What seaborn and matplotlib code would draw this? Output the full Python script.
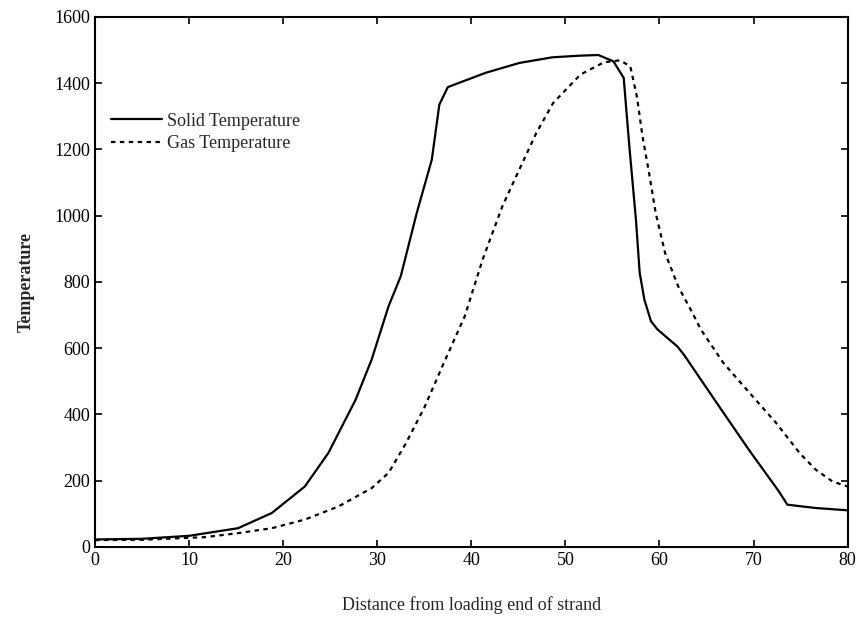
import numpy as np
import pandas as pd
import seaborn as sns
import matplotlib.pyplot as plt

# values
solid_x = [0, 5, 10, 15.2, 18.8, 22.3, 24.8, 27.7, 29.4, 31.2, 32.5, 34.2, 35.8, 36.6,
           37.5, 41.5, 45.1, 48.6, 51.5, 53.5, 55.1, 56.2, 56.8, 57.5, 57.9, 58.4,
           59.1, 59.8, 61.9, 62.6, 66.1, 69.5, 72.7, 73.6, 76.6, 80]
solid_y = [22, 24, 33, 56, 102, 182, 283, 444, 565, 726, 817, 1008, 1169, 1335,
           1388, 1431, 1461, 1478, 1483, 1485, 1466, 1416, 1209, 988, 827, 746,
           681, 656, 605, 580, 434, 293, 167, 127, 117, 110]

gas_x = [0, 5, 11.7, 15.2, 18.8, 22.3, 25.9, 29.4, 31.2, 33, 35, 37, 39.3, 41.2,
         43.3, 45.1, 46.9, 48.7, 51.6, 54.1, 55.8, 56.9, 57.6, 58.2, 58.9, 59.6,
         60.6, 62.0, 63.6, 64.4, 66.8, 69.6, 72.4, 74.9, 76.6, 78.4, 80]
gas_y = [20, 21, 29, 41, 56, 82, 122, 177, 223, 310, 420, 550, 696, 867,
         1028, 1139, 1249, 1340, 1426, 1463, 1469, 1451, 1360, 1239, 1128, 1008,
         887, 786, 701, 656, 555, 464, 374, 283, 233, 197, 182]

df = pd.concat([
    pd.DataFrame({'x': solid_x, 'y': solid_y, 'kind': 'Solid Temperature'}),
    pd.DataFrame({'x': gas_x, 'y': gas_y, 'kind': 'Gas Temperature'}),
])

sns.set_theme(style='white')
plt.rcParams['font.family'] = ['Liberation Serif', 'DejaVu Serif']

fig, ax = plt.subplots(figsize=(8.64, 6.27), dpi=100)
fig.subplots_adjust(left=0.11, right=0.981, top=0.973, bottom=0.128)

sns.lineplot(data=df, x='x', y='y', hue='kind', style='kind', sort=False,
             palette={'Solid Temperature': 'black', 'Gas Temperature': 'black'},
             dashes={'Solid Temperature': '', 'Gas Temperature': (2, 2)},
             linewidth=1.6, ax=ax)

ax.set_xlim(0, 80)
ax.set_ylim(0, 1600)
ax.set_xticks(np.arange(0, 81, 10))
ax.set_yticks(np.arange(0, 1601, 200))
ax.tick_params(direction='in', length=5, width=1.2, labelsize=13, colors='black',
               top=True, right=True, left=True, bottom=True)
for s in ax.spines.values():
    s.set_color('black')
    s.set_linewidth(1.5)

ax.set_xlabel('Distance from loading end of strand', fontsize=13, labelpad=20)
ax.set_ylabel('Temperature', fontsize=13, fontweight='bold', labelpad=14)

leg = ax.legend(loc='upper left', bbox_to_anchor=(0.0, 0.85), frameon=False,
                fontsize=13, handlelength=2.8, handletextpad=0.3, labelspacing=0.3)

fig.savefig('out.png', dpi=100)
